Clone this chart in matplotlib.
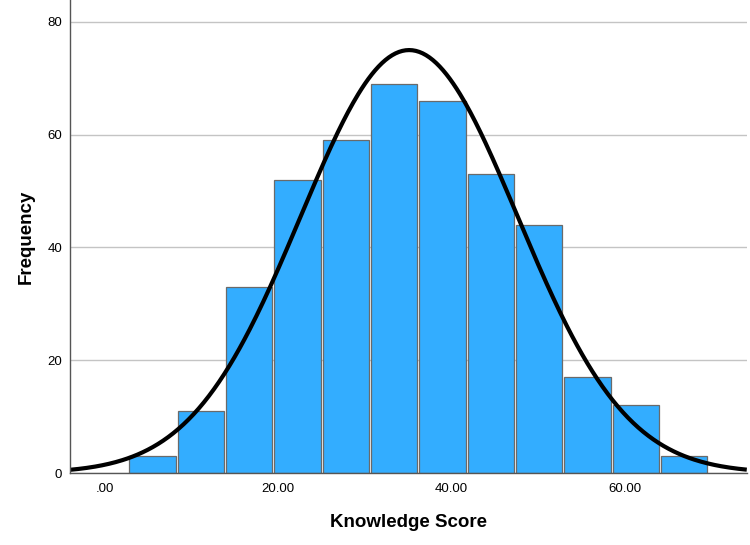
import numpy as np
import matplotlib
matplotlib.use("Agg")
import matplotlib.pyplot as plt

plt.rcParams['font.family'] = ['Liberation Sans', 'DejaVu Sans']

# histogram bins (Knowledge Score) and counts
bin_start = 2.75
bin_width = 5.57
counts = [3, 11, 33, 52, 59, 69, 66, 53, 44, 17, 12, 3]

# normal curve parameters
mean = 35.1
sd = 12.5
n = sum(counts)

xticks = [0, 20, 40, 60]
xtick_labels = ['.00', '20.00', '40.00', '60.00']
yticks = [0, 20, 40, 60, 80]

fig = plt.figure(figsize=(7.5, 5.45), dpi=100)
ax = fig.add_axes([0.0937, 0.1321, 0.902, 0.8679])

lefts = bin_start + bin_width * np.arange(len(counts))
gap = 0.23
ax.bar(lefts + gap / 2, counts, width=bin_width - gap, align='edge',
       color='#33ADFF', edgecolor='#6a6a6a', linewidth=0.9, zorder=2)

# normal curve scaled to counts
xs = np.linspace(-4, 74, 400)
ys = n * bin_width / (sd * np.sqrt(2 * np.pi)) * np.exp(-0.5 * ((xs - mean) / sd) ** 2)
ax.plot(xs, ys, color='black', linewidth=3, zorder=3, solid_capstyle='butt')

ax.set_xlim(-3.94, 74)
ax.set_ylim(0, 83.9)
ax.set_xticks(xticks)
ax.set_xticklabels(xtick_labels)
ax.set_yticks(yticks)
ax.tick_params(length=0, labelsize=9.5, pad=7)
ax.tick_params(axis='y', pad=6)

ax.grid(axis='y', color='#c4c4c4', linewidth=1, zorder=0)
ax.set_axisbelow(True)
for s in ['top', 'right']:
    ax.spines[s].set_visible(False)
for s in ['left', 'bottom']:
    ax.spines[s].set_color('#555555')
    ax.spines[s].set_linewidth(1)
    ax.spines[s].set_zorder(4)

ax.set_xlabel('Knowledge Score', fontsize=13.5, fontweight='bold', labelpad=14)
ax.set_ylabel('Frequency', fontsize=13.5, fontweight='bold', labelpad=9)

fig.savefig('out.png', dpi=100)
